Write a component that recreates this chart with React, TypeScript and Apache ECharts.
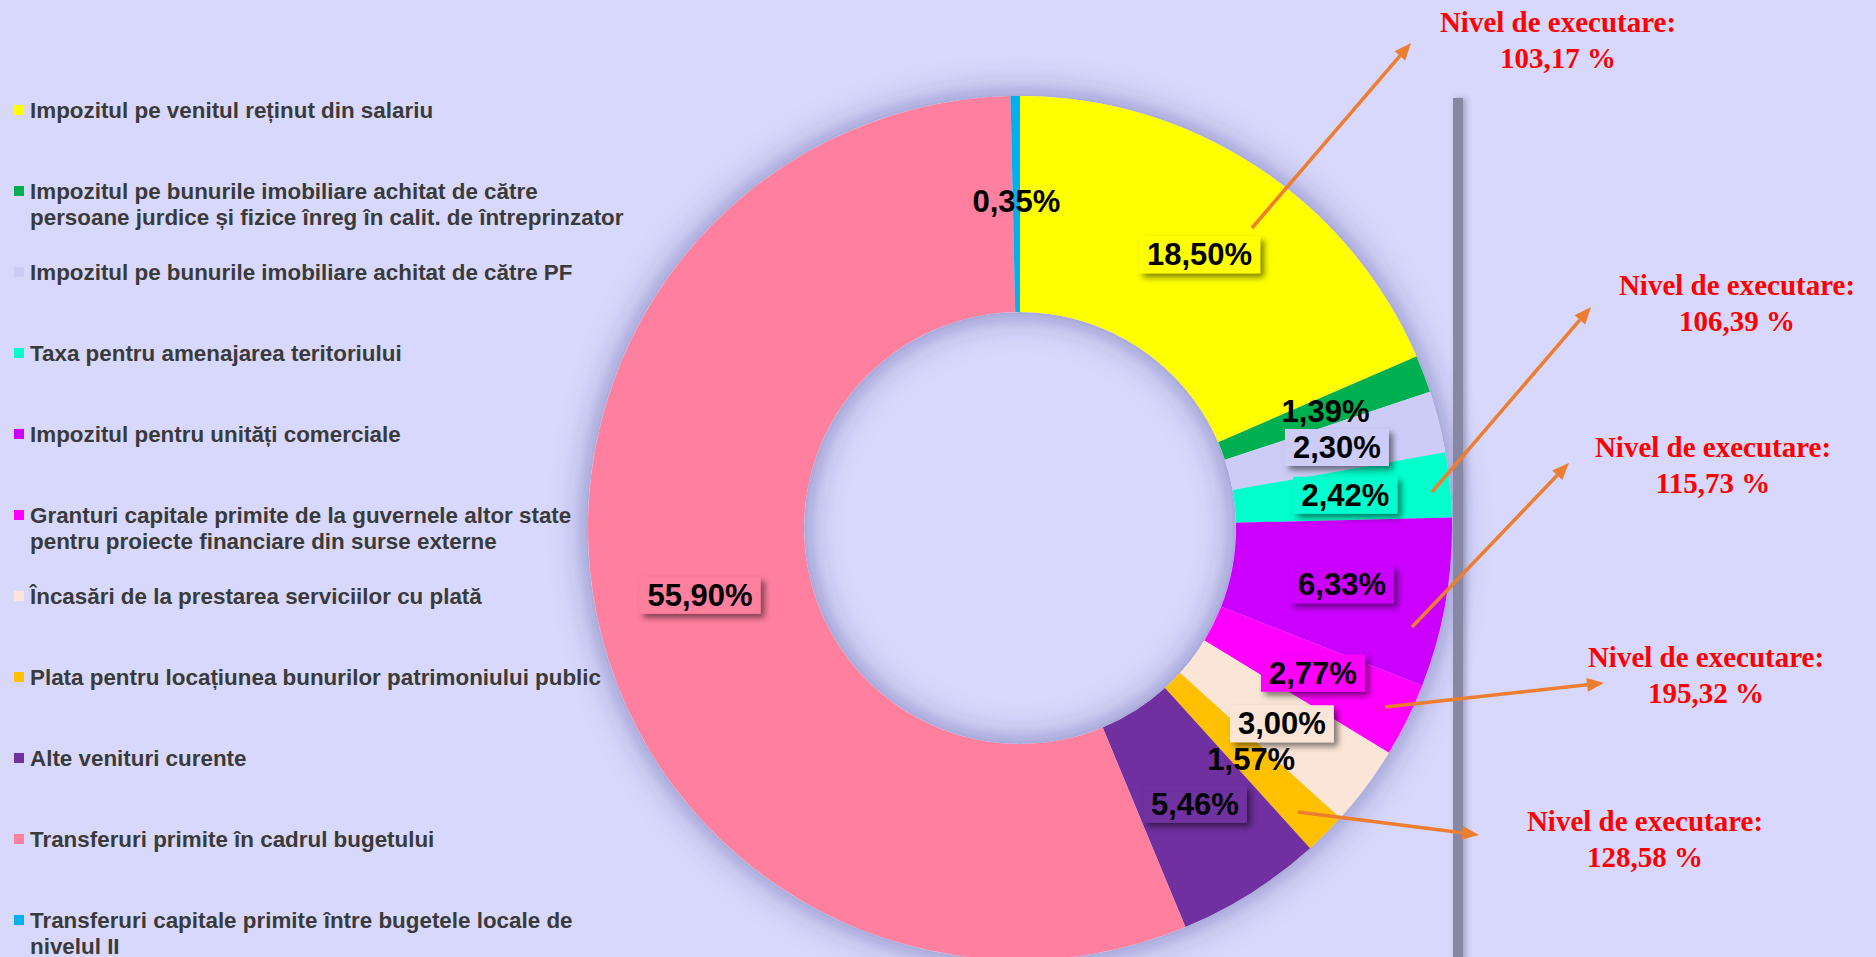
import React, { useEffect, useRef } from 'react';
import * as echarts from 'echarts';

// ---------- data ----------
const categories: string[] = [
  'Impozitul pe venitul reținut din salariu',
  'Impozitul pe bunurile imobiliare achitat de către\npersoane jurdice și fizice înreg în calit. de întreprinzator',
  'Impozitul pe bunurile imobiliare achitat de către PF',
  'Taxa pentru amenajarea teritoriului',
  'Impozitul pentru unități comerciale',
  'Granturi capitale primite de la guvernele altor state\npentru proiecte financiare din surse externe',
  'Încasări de la prestarea serviciilor cu plată',
  'Plata pentru locațiunea bunurilor patrimoniului public',
  'Alte venituri curente',
  'Transferuri primite în cadrul bugetului',
  'Transferuri capitale primite între bugetele locale de\nnivelul II',
];
const shares: number[] = [18.5, 1.39, 2.3, 2.42, 6.33, 2.77, 3.0, 1.57, 5.46, 55.9, 0.35];
const executionLevels: string[] = ['103,17', '106,39', '115,73', '195,32', '128,58'];
const executionTitle = 'Nivel de executare:';

// ---------- styles ----------
const colors = [
  '#FFFF00', '#00B050', '#CCCCF6', '#00FFCC', '#CC00FF', '#FF00FF',
  '#FBE5D6', '#FFC000', '#7030A0', '#FF7F9F', '#00B0F0',
];
// label boxes that straddle several slices are drawn without a fill
const boxedLabel = [true, false, true, true, true, true, true, false, true, true, false];

const BG = '#D8D8FC';
const CENTER: [number, number] = [1020, 528];
const RADII: [number, number] = [216, 432];

// annotation layout: text centre and arrow start/end
const annotations = [
  { tx: 1558, ty: 40, x1: 1252, y1: 228, x2: 1411, y2: 43 },
  { tx: 1737, ty: 303, x1: 1432, y1: 492, x2: 1591, y2: 307 },
  { tx: 1713, ty: 465, x1: 1412, y1: 627, x2: 1569, y2: 463 },
  { tx: 1706, ty: 675, x1: 1385, y1: 707, x2: 1604, y2: 683 },
  { tx: 1645, ty: 839, x1: 1298, y1: 812, x2: 1479, y2: 835 },
];

const ARROW = '#ED7D31';

function arrowElements(a: { x1: number; y1: number; x2: number; y2: number }) {
  const dx = a.x2 - a.x1;
  const dy = a.y2 - a.y1;
  const len = Math.sqrt(dx * dx + dy * dy);
  const ux = dx / len;
  const uy = dy / len;
  const L = 17;
  const W = 7;
  const bx = a.x2 - ux * L;
  const by = a.y2 - uy * L;
  return [
    {
      type: 'line',
      z: 100,
      shape: { x1: a.x1, y1: a.y1, x2: bx, y2: by },
      style: { stroke: ARROW, lineWidth: 3.5 },
    },
    {
      type: 'polygon',
      z: 100,
      shape: {
        points: [
          [a.x2, a.y2],
          [bx - uy * W, by + ux * W],
          [bx + uy * W, by - ux * W],
        ],
      },
      style: { fill: ARROW },
    },
  ];
}

export default function App() {
  const ref = useRef<HTMLDivElement>(null);

  useEffect(() => {
    if (!ref.current) return;
    const chart = echarts.init(ref.current, null, { renderer: 'svg' });

    const legendEls: any[] = [];
    categories.forEach((name, i) => {
      const cy = 110 + i * 81;
      legendEls.push({
        type: 'rect',
        z: 100,
        shape: { x: 14, y: cy - 5, width: 10, height: 10 },
        style: { fill: colors[i] },
      });
      legendEls.push({
        type: 'text',
        z: 100,
        x: 30,
        y: cy - 13,
        style: {
          text: name,
          fill: '#3A3A3A',
          font: 'bold 22.4px "Liberation Sans", Arial, sans-serif',
          lineHeight: 26,
          verticalAlign: 'top',
          align: 'left',
        },
      });
    });

    const annEls: any[] = [];
    annotations.forEach((a, i) => {
      annEls.push({
        type: 'text',
        z: 100,
        x: a.tx,
        y: a.ty,
        style: {
          text: executionTitle + '\n' + executionLevels[i] + ' %',
          fill: '#FF0000',
          font: 'bold 29px "Liberation Serif", "Times New Roman", serif',
          lineHeight: 36,
          align: 'center',
          verticalAlign: 'middle',
        },
      });
      annEls.push(...arrowElements(a));
    });

    const barEl = {
      type: 'rect',
      z: 90,
      shape: { x: 1453, y: 98, width: 10, height: 870 },
      style: {
        fill: '#8787A3',
        shadowBlur: 6,
        shadowOffsetX: 3,
        shadowColor: 'rgba(60,60,100,0.35)',
      },
    };

    const data = shares.map((v, i) => ({
      name: categories[i],
      value: v,
      itemStyle: { color: colors[i] },
      label: boxedLabel[i]
        ? { backgroundColor: colors[i] }
        : { backgroundColor: 'transparent', shadowBlur: 0, shadowOffsetX: 0, shadowOffsetY: 0, shadowColor: 'transparent' },
    }));

    chart.setOption({
      animation: false,
      backgroundColor: BG,
      graphic: [...legendEls, barEl, ...annEls],
      series: [
        {
          type: 'pie',
          silent: true,
          z: 1,
          center: CENTER,
          radius: RADII,
          label: { show: false },
          labelLine: { show: false },
          itemStyle: {
            color: BG,
            shadowBlur: 34,
            shadowColor: 'rgba(50,50,130,0.55)',
          },
          data: [{ value: 1, name: '' }],
        },
        {
          type: 'pie',
          z: 2,
          center: CENTER,
          radius: RADII,
          startAngle: 90,
          clockwise: true,
          avoidLabelOverlap: false,
          labelLayout: { hideOverlap: false },
          itemStyle: { borderWidth: 0 },
          labelLine: { show: false },
          emphasis: { disabled: true },
          label: {
            show: true,
            position: 'inside',
            color: '#000',
            fontFamily: '"Liberation Sans", Arial, sans-serif',
            fontWeight: 'bold',
            fontSize: 31,
            textBorderWidth: 0,
            padding: [3, 8, 3, 8],
            shadowBlur: 6,
            shadowOffsetX: 4,
            shadowOffsetY: 4,
            shadowColor: 'rgba(0,0,0,0.5)',
            formatter: (p: any) => p.value.toFixed(2).replace('.', ',') + '%',
          },
          data,
        },
      ],
    });

    return () => chart.dispose();
  }, []);

  return (
    <div
      ref={ref}
      style={{ position: 'absolute', left: 0, top: 0, width: 1876, height: 957 }}
    />
  );
}
